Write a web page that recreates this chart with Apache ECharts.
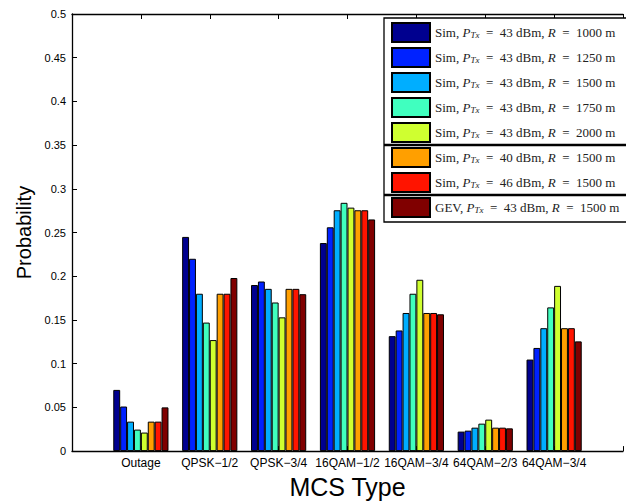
<!DOCTYPE html>
<html>
<head>
<meta charset="utf-8">
<script src="https://cdn.jsdelivr.net/npm/echarts@6/dist/echarts.min.js"></script>
<style>
html,body{margin:0;padding:0;background:#fff;}
#chart{width:626px;height:504px;}
</style>
</head>
<body>
<div id="chart"></div>
<script>
var categories = ['Outage', 'QPSK\u22121/2', 'QPSK\u22123/4', '16QAM\u22121/2', '16QAM\u22123/4', '64QAM\u22122/3', '64QAM\u22123/4'];
var seriesNames = [
  'Sim, P_Tx = 43 dBm, R = 1000 m',
  'Sim, P_Tx = 43 dBm, R = 1250 m',
  'Sim, P_Tx = 43 dBm, R = 1500 m',
  'Sim, P_Tx = 43 dBm, R = 1750 m',
  'Sim, P_Tx = 43 dBm, R = 2000 m',
  'Sim, P_Tx = 40 dBm, R = 1500 m',
  'Sim, P_Tx = 46 dBm, R = 1500 m',
  'GEV, P_Tx = 43 dBm, R = 1500 m'
];
var simR1000 = [0.070, 0.245, 0.190, 0.238, 0.1315, 0.0223, 0.1047];
var simR1250 = [0.051, 0.220, 0.194, 0.256, 0.138, 0.0234, 0.118];
var simR1500 = [0.0337, 0.180, 0.1856, 0.2755, 0.158, 0.0268, 0.1406];
var simR1750 = [0.0246, 0.147, 0.170, 0.284, 0.180, 0.0314, 0.1644];
var simR2000 = [0.0212, 0.127, 0.153, 0.2785, 0.196, 0.036, 0.189];
var simP40 = [0.0337, 0.180, 0.1856, 0.2755, 0.158, 0.0268, 0.1406];
var simP46 = [0.0337, 0.180, 0.1856, 0.2755, 0.158, 0.0268, 0.1406];
var gevP43 = [0.050, 0.198, 0.1795, 0.265, 0.1565, 0.026, 0.1255];
var yTicks = [0, 0.05, 0.1, 0.15, 0.2, 0.25, 0.3, 0.35, 0.4, 0.45, 0.5];

var allValues = [simR1000, simR1250, simR1500, simR1750, simR2000, simP40, simP46, gevP43];
var colors = ['#00008F', '#0022FF', '#00AEFF', '#40FFBF', '#CFFF30', '#FF9F00', '#FF1400', '#800000'];

var series = allValues.map(function (vals, k) {
  return {
    name: seriesNames[k],
    type: 'bar',
    barWidth: 6.9,
    barGap: '0%',
    itemStyle: { color: colors[k], borderColor: '#000', borderWidth: 1 },
    data: vals.map(function (v, i) { return [i + 1, v]; }),
    emphasis: { disabled: true },
    silent: true
  };
});

function legendFmt(name) {
  var m = name.match(/^(\w+), P_Tx = (\d+) dBm, R = (\d+) m$/);
  if (!m) return name;
  return '{r|' + m[1] + ', }{i|P}{s|Tx}{r|  =  ' + m[2] + ' dBm, }{i|R}{r|  =  ' + m[3] + ' m}';
}

var serif = 'Liberation Serif, DejaVu Serif, serif';
var sans = 'Liberation Sans, Arial, sans-serif';

var chart = echarts.init(document.getElementById('chart'), null, { renderer: 'svg' });
chart.setOption({
  animation: false,
  backgroundColor: '#fff',
  grid: { left: 72, top: 14, width: 559, height: 441, containLabel: false },
  xAxis: [{
    type: 'value', min: 0, max: categories.length + 1, interval: 1,
    name: 'MCS Type', nameLocation: 'middle', nameGap: 16,
    nameTextStyle: { fontFamily: sans, fontSize: 25, color: '#000' },
    axisLine: { lineStyle: { color: '#000', width: 1.3 } },
    axisTick: { inside: true, length: 5, lineStyle: { color: '#000' } },
    axisLabel: {
      fontFamily: sans, fontSize: 12, color: '#000', margin: 6,
      formatter: function (v) { return (v >= 1 && v <= categories.length) ? categories[v - 1] : ''; }
    },
    splitLine: { show: false }
  }, {
    type: 'value', position: 'top', min: 0, max: categories.length + 1, interval: 1,
    axisLine: { onZero: false, lineStyle: { color: '#000', width: 1.3 } },
    axisTick: { inside: true, length: 5, lineStyle: { color: '#000' } },
    axisLabel: { show: false },
    splitLine: { show: false }
  }],
  yAxis: {
    type: 'value', min: yTicks[0], max: yTicks[yTicks.length - 1], interval: 0.05,
    name: 'Probability', nameLocation: 'middle', nameGap: 38,
    nameTextStyle: { fontFamily: sans, fontSize: 20, color: '#000' },
    axisLine: { show: true, lineStyle: { color: '#000', width: 1.3 } },
    axisTick: { show: true, inside: true, length: 5, lineStyle: { color: '#000' } },
    axisLabel: { fontFamily: sans, fontSize: 11, color: '#000', margin: 6 },
    splitLine: { show: false }
  },
  legend: {
    orient: 'vertical', left: 391, top: 22, padding: 0, z: 10,
    itemWidth: 38, itemHeight: 19, itemGap: 4, icon: 'rect',
    selectedMode: false,
    formatter: legendFmt,
    textStyle: {
      color: '#222', fontFamily: serif, fontSize: 13, lineHeight: 14,
      rich: {
        r: { fontFamily: serif, fontSize: 13, lineHeight: 14, color: '#222' },
        i: { fontFamily: serif, fontSize: 13, lineHeight: 14, fontStyle: 'italic', color: '#222' },
        s: { fontFamily: serif, fontSize: 9, lineHeight: 10, fontStyle: 'italic', color: '#222', padding: [5, 0, 0, 0] }
      }
    },
    data: seriesNames
  },
  graphic: [
    { type: 'rect', z: 3, shape: { x: 384, y: 18, width: 300, height: 204 }, style: { fill: '#fff', stroke: '#000', lineWidth: 1.3 } },
    { type: 'line', z: 4, shape: { x1: 384, y1: 145, x2: 700, y2: 145 }, style: { stroke: '#000', lineWidth: 2.5 } },
    { type: 'line', z: 4, shape: { x1: 384, y1: 195, x2: 700, y2: 195 }, style: { stroke: '#000', lineWidth: 2.5 } }
  ],
  series: series
});
</script>
</body>
</html>
